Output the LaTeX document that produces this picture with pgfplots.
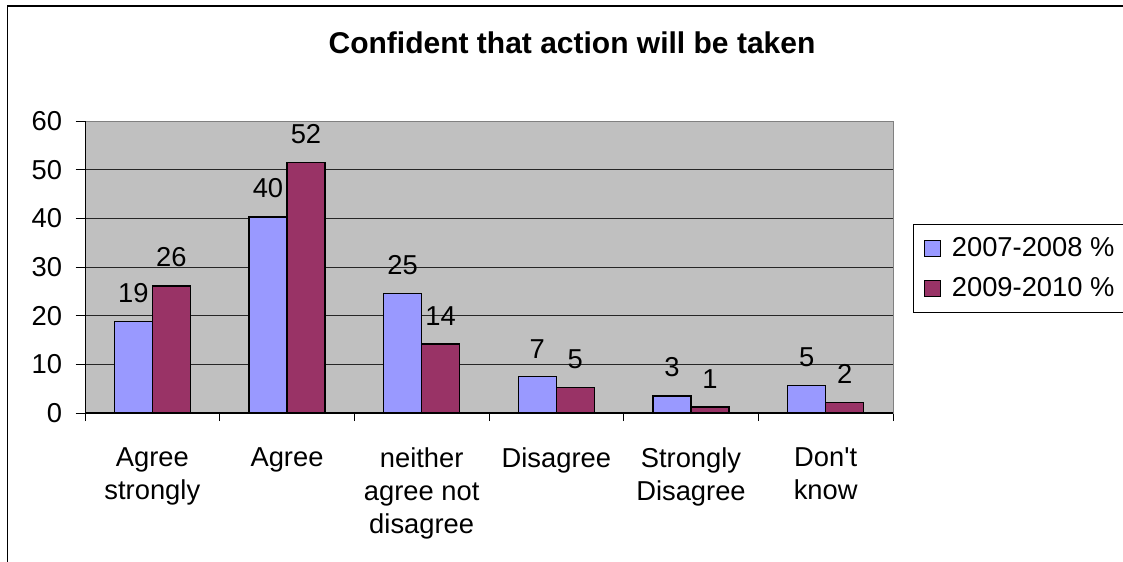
\documentclass[border=0pt]{standalone}
\usepackage{pgfplots}
\pgfplotsset{compat=1.18}
\usepackage{fontspec}
\setmainfont{Liberation Sans}
\definecolor{barA}{HTML}{9999FF}
\definecolor{barB}{HTML}{993366}
\definecolor{plotbg}{HTML}{C0C0C0}
\begin{document}
\begin{tikzpicture}[x=0.75pt,y=0.75pt]
\useasboundingbox (0,0) rectangle (1123,561);
\clip (0,0) rectangle (1123,561);
\fill[white] (0,0) rectangle (1123,561);
\draw[black, line width=1.1pt] (7.5,-5) -- (7.5,555) -- (1130,555);
\node[font=\bfseries\fontsize{22.5}{27}\selectfont, anchor=base] at (572,507) {Confident that action will be taken};
\begin{axis}[
  at={(63.75pt,111pt)}, anchor=south west,
  scale only axis, width=606pt, height=219pt,
  ybar=0pt, bar width=28.5pt,
  xmin=-0.5, xmax=5.5, ymin=0, ymax=60,
  ytick={0,10,...,60},
  xtick={0,...,5},
  xticklabels={Agree\\strongly, Agree, neither\\agree not\\disagree, Disagree, Strongly\\Disagree, Don\textquotesingle t\\know},
  minor xtick={-0.5,0.5,...,5.5},
  xtick pos=lower, ytick pos=left,
  tick align=outside,
  major tick length=7pt, minor tick length=6pt,
  major x tick style={draw=none},
  minor x tick style={black, line width=0.75pt},
  major y tick style={black, line width=0.75pt},
  ymajorgrids, major grid style={black!85, line width=0.75pt},
  axis background/.style={fill=plotbg},
  axis line style={draw=gray, line width=0.75pt},
  /pgf/number format/assume math mode=true,
  yticklabel style={font=\fontsize{20.5}{24}\selectfont, anchor=east, inner sep=0pt, xshift=-10pt},
  xticklabel style={font=\fontsize{20.5}{24.75}\selectfont, align=center, anchor=north, inner sep=0pt, yshift=-18.5pt},
  every node near coord/.append style={font=\fontsize{20.5}{24}\selectfont, inner sep=0pt, anchor=south, yshift=13.5pt, text=black},
  point meta=explicit symbolic,
  nodes near coords={\pgfplotspointmeta},
  legend style={at={(1.0248,0.647)}, anchor=north west, draw=black, line width=0.75pt, fill=white,
    font=\fontsize{20.5}{24}\selectfont, row sep=10pt, column sep=6pt, inner xsep=7.5pt, inner ysep=8pt},
  legend cell align=left,
  legend image code/.code={\draw[#1, line width=0.75pt] (0pt,-6pt) rectangle (12.5pt,6pt);},
]
\addplot[fill=barA, draw=black, line width=1.1pt] coordinates {
  (0,18.75)[19] (1,40.3)[40] (2,24.6)[25] (3,7.45)[7] (4,3.5)[3] (5,5.6)[5]};
\addplot[fill=barB, draw=black, line width=1.1pt] coordinates {
  (0,26.1)[26] (1,51.5)[52] (2,14.2)[14] (3,5.25)[5] (4,1.2)[1] (5,2.2)[2]};
\legend{2007-2008 \%\hspace{12pt}, 2009-2010 \%\hspace{12pt}}
\draw[black, line width=0.9pt] (axis cs:-0.5,0) -- (axis cs:5.5,0);
\draw[black, line width=0.9pt] (axis cs:-0.5,0) -- (axis cs:-0.5,60);
\end{axis}
\end{tikzpicture}
\end{document}
